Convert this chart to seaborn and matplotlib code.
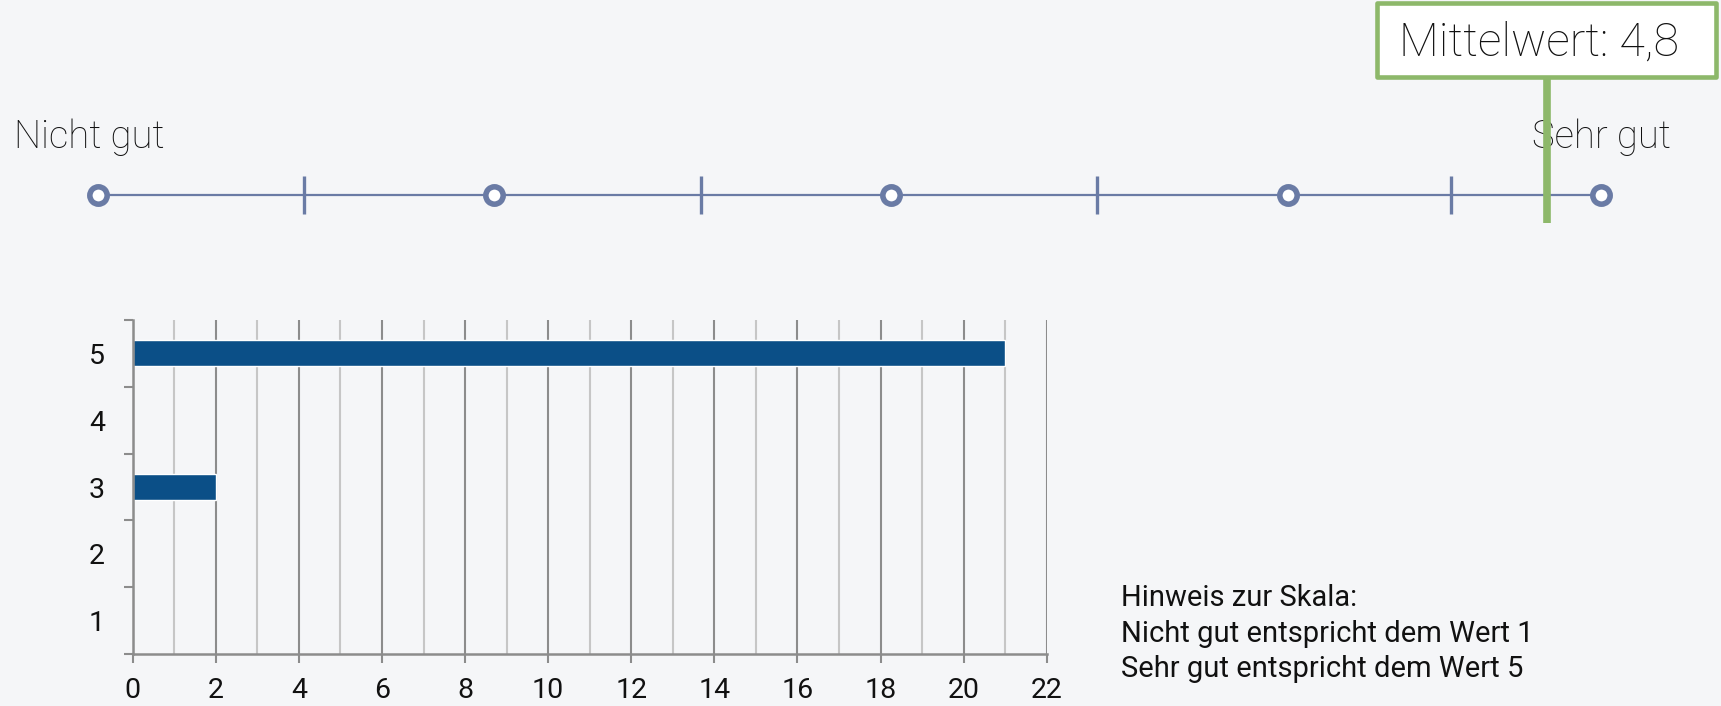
import numpy as np
import pandas as pd
import matplotlib
matplotlib.use('Agg')
import matplotlib.pyplot as plt
import seaborn as sns
from matplotlib import transforms
from matplotlib.patches import Rectangle
from matplotlib.ticker import MultipleLocator, FixedLocator

# Rating scale on top (the last step is drawn shorter in the original)
scale_values = [1, 2, 3, 4, 5]
scale_spacing = [0, 1, 2, 3, 3.79]
scale_marks = [1.52, 2.52, 3.52, 4.52]
scale_left = 'Nicht gut'
scale_right = 'Sehr gut'

# Answer counts per rating
ratings = ['5', '4', '3', '2', '1']
counts = [21, 0, 2, 0, 0]
x_max = 22

# mean of the answers, label rounded like the original (4,8)
mean_value = np.average([int(r) for r in ratings], weights=counts)
mean_label = 'Mittelwert: ' + f'{mean_value:.1f}'.replace('.', ',')

note_lines = ['Hinweis zur Skala:',
              'Nicht gut entspricht dem Wert 1',
              'Sehr gut entspricht dem Wert 5']

bg = '#f5f6f8'
slate = '#6a7ba5'
green = '#8db86a'
bar_color = '#0b4f87'
grid_dark = '#8c8c8c'
grid_light = '#c6c6c6'

sns.set_theme(style='white', rc={'figure.facecolor': bg, 'axes.facecolor': bg,
                                 'savefig.facecolor': bg})
plt.rcParams['font.family'] = ['Roboto', 'DejaVu Sans']
plt.rcParams['text.color'] = '#111111'
plt.rcParams['xtick.color'] = grid_dark
plt.rcParams['ytick.color'] = grid_dark
plt.rcParams['xtick.labelcolor'] = '#111111'
plt.rcParams['ytick.labelcolor'] = '#111111'

W, H = 1721, 706
fig = plt.figure(figsize=(W / 100, H / 100), dpi=100)

### Top scale
ax_top = fig.add_axes([97.7 / W, 1 - 240 / H, (1601 - 97.7) / W, 240 / H])


def fwd(v):
    return np.interp(v, scale_values, scale_spacing)


def inv(p):
    return np.interp(p, scale_spacing, scale_values)


ax_top.set_xscale('function', functions=(fwd, inv))
ax_top.set_xlim(scale_values[0], scale_values[-1])
ax_top.set_ylim(240, 0)  # y in pixel rows of the strip
ax_top.axis('off')

line_y = 195
ax_top.plot([scale_values[0], scale_values[-1]], [line_y, line_y], color=slate, lw=1.6,
            zorder=1, clip_on=False)
ax_top.vlines(scale_marks, 176, 214, color=slate, lw=2.4, zorder=2)
ax_top.plot(scale_values, [line_y] * len(scale_values), 'o', ms=12.5, mfc='white',
            mec=slate, mew=4, zorder=3, clip_on=False)

shift_left = transforms.offset_copy(ax_top.transData, fig=fig, x=-8, y=0, units='dots')
ax_top.text(scale_values[0], 148, scale_left, ha='center', va='baseline', fontsize=27.5,
            fontweight='light', transform=shift_left)
ax_top.text(scale_values[-1], 148, scale_right, ha='center', va='baseline', fontsize=27.5,
            fontweight='light')

# Mean marker + label box
ax_top.vlines(mean_value, 77, 223, color=green, lw=5.5, zorder=5)
xc = ax_top.transData.transform((mean_value, 0))[0]
trans = transforms.blended_transform_factory(transforms.IdentityTransform(), ax_top.transData)
ax_top.add_patch(Rectangle((xc - 169.5, 3), 339, 74, transform=trans, facecolor='white',
                           edgecolor=green, lw=3.3, joinstyle='round', clip_on=False, zorder=6))
ax_top.text(mean_value, 56, mean_label, ha='center', va='baseline', fontsize=33.5,
            fontweight='light', zorder=7, transform=shift_left)

### Bar chart
ax = fig.add_axes([132.7 / W, 52 / H, 914 / W, 334 / H])
df = pd.DataFrame({'rating': ratings, 'count': counts})
sns.barplot(data=df, x='count', y='rating', order=ratings, orient='h', color=bar_color,
            saturation=1, width=0.39, ax=ax)

ax.set_xlim(0, x_max)
ax.set_ylim(len(ratings) - 0.5, -0.5)
ax.set_xlabel('')
ax.set_ylabel('')
ax.set_axisbelow(True)

ax.xaxis.set_major_locator(MultipleLocator(2))
ax.xaxis.set_minor_locator(MultipleLocator(1))
ax.yaxis.set_minor_locator(FixedLocator(np.arange(-0.5, len(ratings), 1)))
ax.grid(axis='x', which='major', color=grid_dark, lw=1.5)
ax.grid(axis='x', which='minor', color=grid_light, lw=1.5)

ax.tick_params(axis='y', which='major', left=False, length=0, pad=20, labelsize=20.5)
ax.tick_params(axis='y', which='minor', left=True, length=6.5, width=1.5)
ax.tick_params(axis='x', which='major', bottom=True, length=6.5, width=1.5,
               pad=10, labelsize=20.5)
ax.tick_params(axis='x', which='minor', bottom=False, length=0)

for side in ['top', 'right']:
    ax.spines[side].set_visible(False)
for side in ['left', 'bottom']:
    ax.spines[side].set_color(grid_dark)
    ax.spines[side].set_linewidth(1.8)

# Scale note
for i, line in enumerate(note_lines):
    fig.text(1121 / W, 1 - (606 + 35.5 * i) / H, line, fontsize=21, va='baseline')

fig.savefig('out.png', dpi=100)
